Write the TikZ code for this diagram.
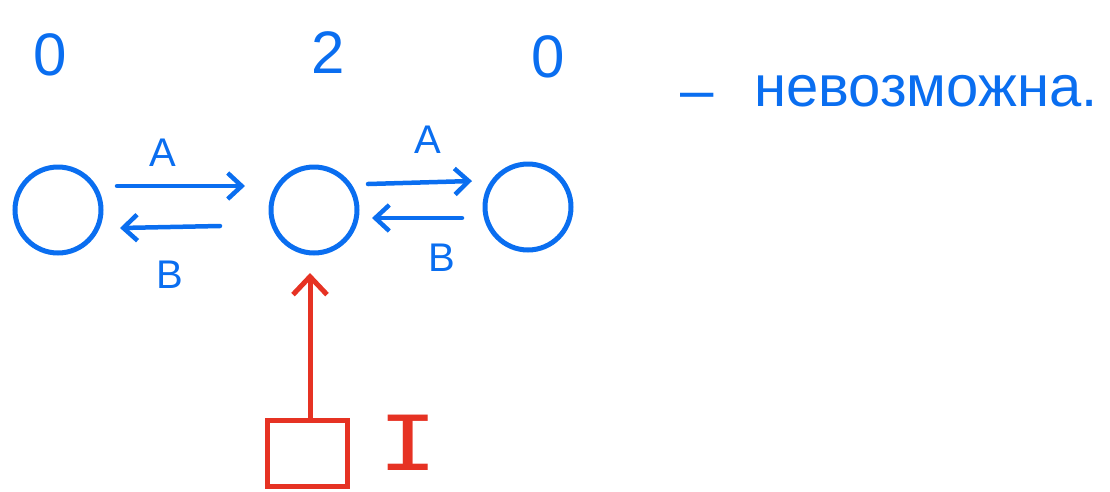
\documentclass[tikz,border=0pt]{standalone}
\usepackage{fontspec}
\setmainfont{Liberation Sans}
\newfontfamily\monoI{DejaVu Sans Mono}
\usetikzlibrary{arrows.meta}
\definecolor{pblue}{RGB}{10,110,240}
\definecolor{pred}{RGB}{230,50,35}
\tikzset{
  x=1pt,y=-1pt,
  state/.style={circle,draw=pblue,line width=5pt,minimum size=86pt,inner sep=0pt},
  flow/.style={draw=pblue,line width=4.5pt,line cap=round,-{Straight Barb[length=14pt,width=26pt,line width=4.5pt]}},
  lbl/.style={text=pblue,font=\fontsize{40}{44}\selectfont,inner sep=0pt},
  num/.style={text=pblue,font=\fontsize{60}{64}\selectfont,inner sep=0pt},
  inflow/.style={draw=pred,line width=5pt,line cap=round,-{Straight Barb[length=18pt,width=34pt,line width=5pt]}}
}
\begin{document}
\begin{tikzpicture}
\useasboundingbox (0,0) rectangle (1110,491);
\node[state] (s1) at (58,210) {};
\node[state] (s2) at (314,210) {};
\node[state] (s3) at (528,207) {};
\node[num] (n1) at (50,55) {0};
\node[num] (n2) at (328,53) {2};
\node[num] (n3) at (548,57) {0};
\node[text=pblue,font=\fontsize{60}{64}\selectfont,inner sep=0pt] (dash) at (697,102) {–};
\node[text=pblue,font=\fontsize{58}{62}\selectfont,anchor=west,inner sep=0pt] (t) at (754,91) {невозможна.};
\coordinate (a1s) at (117,186); \coordinate (a1e) at (245,186);
\coordinate (b1s) at (220,226); \coordinate (b1e) at (120,228);
\coordinate (a2s) at (368,184); \coordinate (a2e) at (472,181);
\coordinate (b2s) at (462,218); \coordinate (b2e) at (372,218);
\draw[flow] (a1s) -- (a1e);
\draw[flow] (b1s) -- (b1e);
\draw[flow] (a2s) -- (a2e);
\draw[flow] (b2s) -- (b2e);
\node[lbl] (la1) at (163,153) {A};
\node[lbl] (lb1) at (170,275) {B};
\node[lbl] (la2) at (428,140) {A};
\node[lbl] (lb2) at (442,258) {B};
\node[draw=pred,line width=5pt,minimum width=80pt,minimum height=66pt,inner sep=0pt] (src) at (307,453) {};
\coordinate (srctop) at (310,420);
\coordinate (redtip) at (310,273);
\draw[inflow] (srctop) -- (redtip);
\node[text=pred,font=\monoI\fontsize{76}{80}\selectfont,inner sep=0pt] (lI) at (408,443) {\scalebox{1.3}[1]{I}};
\end{tikzpicture}
\end{document}
